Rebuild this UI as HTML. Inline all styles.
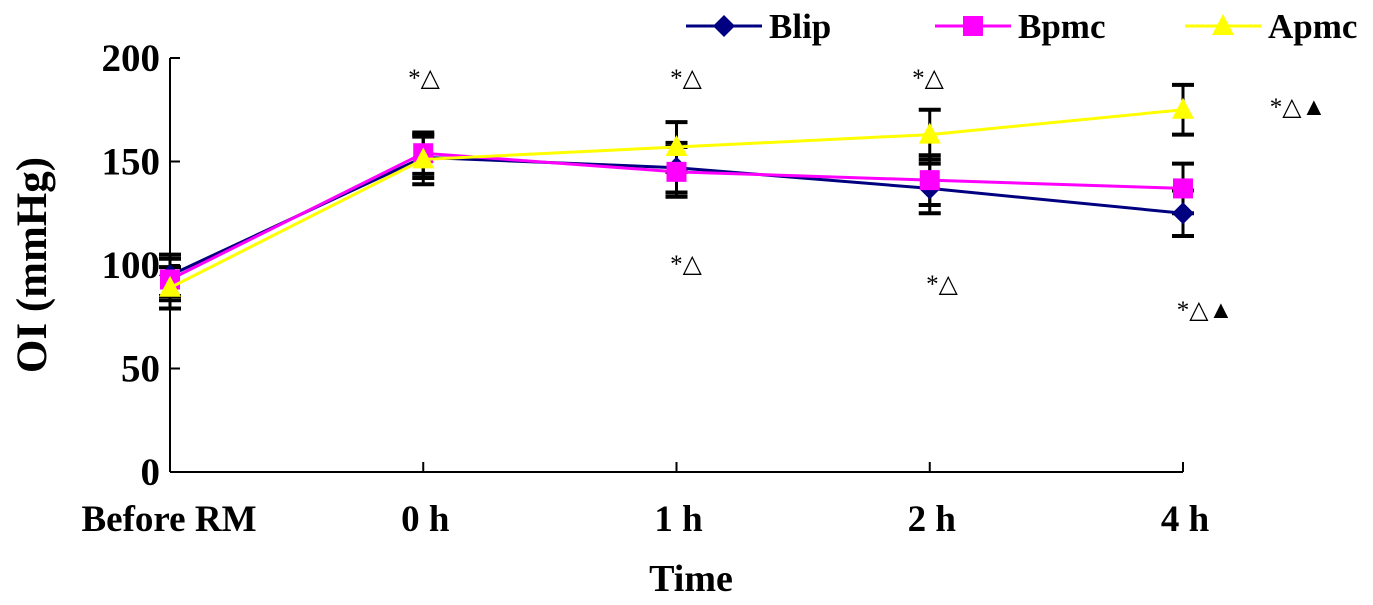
<!DOCTYPE html>
<html><head><meta charset="utf-8">
<style>
body{margin:0;background:#fff;}
svg{display:block;font-family:"Liberation Serif","DejaVu Sans",serif;}
</style></head>
<body>
<svg id="chart" width="1373" height="605"></svg>
<script>
const categories=["Before RM","0 h","1 h","2 h","4 h"];
const blip=[95,152,147,137,125];
const bpmc=[93,154,145,141,137];
const apmc=[89,151,157,163,175];
const blipErr=[10,10,12,12,11];
const bpmcErr=[10,10,12,12,12];
const apmcErr=[10,12,12,12,12];
const yTicks=[0,50,100,150,200];
const annotTop=["","*△","*△","*△","*△▲"];
const annotBottom=["","","*△","*△","*△▲"];

const NS="http://www.w3.org/2000/svg";
const svg=document.getElementById('chart');
const x0=170,xStep=253.25,yBase=472,yTop=58;
const xs=i=>x0+i*xStep;
const ys=v=>yBase-(v/200)*(yBase-yTop);
function mk(tag,attrs,parent){const e=document.createElementNS(NS,tag);for(const k in attrs)e.setAttribute(k,attrs[k]);(parent||svg).appendChild(e);return e;}

let ax=mk('line',{x1:x0,y1:yTop,x2:x0,y2:yBase,stroke:'#000','stroke-width':2});


let bx=mk('line',{x1:x0,y1:yBase,x2:xs(4),y2:yBase,stroke:'#000','stroke-width':2});


yTicks.forEach(t=>{
  let tk=mk('line',{x1:x0,y1:ys(t),x2:x0+10,y2:ys(t),stroke:'#000','stroke-width':2});
  
  
  let tl=mk('text',{x:160,y:ys(t)+13,'text-anchor':'end','font-size':39,'font-weight':'bold'});
  tl.textContent=t;
  
  
});
categories.forEach((c,i)=>{
  if(i>0){let tk=mk('line',{x1:xs(i),y1:yBase,x2:xs(i),y2:yBase-10,stroke:'#000','stroke-width':2});
  
  }
  let tl=mk('text',{x:i==0?169:xs(i)+2,y:531,'text-anchor':'middle','font-size':37,'font-weight':'bold'});
  tl.textContent=c;
  
  
});
let yt=mk('text',{x:0,y:0,transform:'translate(46,265) rotate(-90)','text-anchor':'middle','font-size':43,'font-weight':'bold'});
yt.textContent='OI (mmHg)';


let xt=mk('text',{x:691,y:591,'text-anchor':'middle','font-size':38,'font-weight':'bold'});
xt.textContent='Time';



[[blip,blipErr],[bpmc,bpmcErr],[apmc,apmcErr]].forEach(([vals,errs])=>{
  vals.forEach((v,i)=>{
    const x=xs(i),y1=ys(v+errs[i]),y2=ys(v-errs[i]);
    let g=mk('g',{});
    
    
    mk('line',{x1:x,y1:y1,x2:x,y2:y2,stroke:'#000','stroke-width':3},g);
    mk('line',{x1:x-11,y1:y1,x2:x+11,y2:y1,stroke:'#000','stroke-width':4},g);
    mk('line',{x1:x-11,y1:y2,x2:x+11,y2:y2,stroke:'#000','stroke-width':4},g);
  });
});

function marker(kind,x,y,color,parent){
  if(kind==='diamond')return mk('polygon',{points:`${x},${y-11} ${x+11},${y} ${x},${y+11} ${x-11},${y}`,fill:color},parent);
  if(kind==='square')return mk('rect',{x:x-10,y:y-10,width:20,height:20,fill:color},parent);
  return mk('polygon',{points:`${x},${y-12} ${x+11},${y+9} ${x-11},${y+9}`,fill:color},parent);
}
const series=[["blip",blip,'#000080','diamond'],["bpmc",bpmc,'#ff00ff','square'],["apmc",apmc,'#ffff00','triangle']];
series.forEach(([name,vals,color,kind])=>{
  let g=mk('g',{});
  
  
  let pl=mk('polyline',{points:vals.map((v,i)=>xs(i)+','+ys(v)).join(' '),fill:'none',stroke:color,'stroke-width':3},g);
  
  
  vals.forEach((v,i)=>{
    let m=marker(kind,xs(i),ys(v),color,g);
    
    
  });
});

const topPos=[[0,0],[424,86],[686,86],[928,86],[1298,115]];
const botPos=[[0,0],[0,0],[686,272],[942,292],[1205,318]];
annotTop.forEach((a,i)=>{ if(!a)return;
  let t=mk('text',{x:topPos[i][0],y:topPos[i][1],'text-anchor':'middle','font-size':25});
  t.textContent=a;
  
  
});
annotBottom.forEach((a,i)=>{ if(!a)return;
  let t=mk('text',{x:botPos[i][0],y:botPos[i][1],'text-anchor':'middle','font-size':25});
  t.textContent=a;
  
  
});

const legX=[686,935,1185];
series.forEach(([name,vals,color,kind],k)=>{
  let g=mk('g',{});
  
  
  const x=legX[k],y=26;
  mk('line',{x1:x,y1:y,x2:x+76,y2:y,stroke:color,'stroke-width':3},g);
  marker(kind,x+38,y,color,g);
  let t=mk('text',{x:x+83,y:y+12,'font-size':35,'font-weight':'bold'},g);
  t.textContent=name.charAt(0).toUpperCase()+name.slice(1);
});
</script>
</body></html>
